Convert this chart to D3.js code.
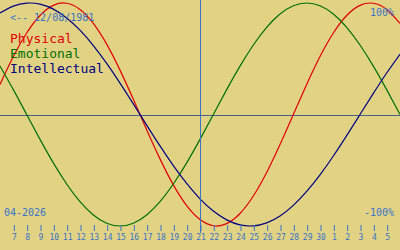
<!DOCTYPE html>
<html>
<head>
<meta charset="utf-8">
<script src="https://cdn.jsdelivr.net/npm/d3@7"></script>
<style>
  html, body { margin: 0; padding: 0; background: #e2d384; }
  svg { display: block; }
  text { font-family: "DejaVu Sans Mono", monospace; }
</style>
</head>
<body>
<div id="chartArea"></div>
<script>
// one value per day, 6 April .. 6 May (index 0..30), today = 21 April
const physical = [0.27, 0.52, 0.731, 0.888, 0.979, 0.998, 0.942, 0.817, 0.631, 0.398, 0.136,
  -0.136, -0.398, -0.631, -0.817, -0.942, -0.998, -0.979, -0.888, -0.731, -0.52,
  -0.27, 0, 0.27, 0.52, 0.731, 0.888, 0.979, 0.998, 0.942, 0.817];
const emotional = [0.434, 0.223, 0, -0.223, -0.434, -0.623, -0.782, -0.901, -0.975, -1, -0.975,
  -0.901, -0.782, -0.623, -0.434, -0.223, 0, 0.223, 0.434, 0.623, 0.782,
  0.901, 0.975, 1, 0.975, 0.901, 0.782, 0.623, 0.434, 0.223, 0];
const intellectual = [0.91, 0.972, 0.999, 0.99, 0.945, 0.866, 0.756, 0.618, 0.458, 0.282, 0.095,
  -0.095, -0.282, -0.458, -0.618, -0.756, -0.866, -0.945, -0.99, -0.999, -0.972,
  -0.91, -0.815, -0.69, -0.541, -0.372, -0.189, 0, 0.189, 0.372, 0.541];
const tickDays = [7, 8, 9, 10, 11, 12, 13, 14, 15, 16, 17, 18, 19, 20, 21, 22, 23, 24, 25,
  26, 27, 28, 29, 30, 1, 2, 3, 4, 5];
const todayIndex = 15;
const birthLabel = "<-- 12/08/1981";
const monthLabel = "04-2026";
const legend = ["Physical", "Emotional", "Intellectual"];

(function() {
  const w = 400;
  const h = 250;
  const textBlue = "#3a72c8";
  const colors = ["#e00000", "#007000", "#000080"];

  const svg = d3
    .select("#chartArea")
    .append("svg")
    .attr("width", w)
    .attr("height", h);

  svg.append("rect").attr("width", w).attr("height", h).attr("fill", "#e2d384");

  const xScale = d3.scaleLinear().domain([0, 30]).range([0, w]);
  const yScale = d3.scaleLinear().domain([-1, 1]).range([226, 3]);

  // zero line
  svg
    .append("line")
    .attr("x1", 0)
    .attr("x2", w)
    .attr("y1", 115.5)
    .attr("y2", 115.5)
    .attr("stroke", "#46608a")
    .attr("stroke-width", 1);

  const line = d3
    .line()
    .x((d, i) => xScale(i))
    .y(d => yScale(d))
    .curve(d3.curveNatural);

  svg
    .selectAll("path.bio")
    .data([physical, emotional, intellectual])
    .enter()
    .append("path")
    .attr("class", "bio")
    .attr("fill", "none")
    .attr("stroke", (d, i) => colors[i])
    .attr("stroke-width", 1.2)
    .attr("d", line);

  // today marker
  svg
    .append("line")
    .attr("x1", xScale(todayIndex) + 0.5)
    .attr("x2", xScale(todayIndex) + 0.5)
    .attr("y1", 0)
    .attr("y2", 233)
    .attr("stroke", textBlue)
    .attr("stroke-width", 1);

  // day axis
  const xAxis = d3
    .axisBottom()
    .scale(xScale)
    .tickValues(d3.range(1, 30))
    .tickFormat(d => tickDays[d - 1])
    .tickSizeInner(6)
    .tickSizeOuter(0)
    .tickPadding(3);

  const axis = svg
    .append("g")
    .attr("class", "x axis")
    .attr("transform", "translate(0.5,225)")
    .call(xAxis);
  axis.select(".domain").remove();
  axis.selectAll("line").attr("stroke", textBlue);
  axis
    .selectAll("text")
    .attr("fill", textBlue)
    .style("font-family", "DejaVu Sans Mono")
    .style("font-size", "8px");

  // labels
  svg
    .append("text")
    .attr("x", 10)
    .attr("y", 21)
    .attr("fill", textBlue)
    .style("font-size", "10px")
    .text(birthLabel);

  svg
    .append("text")
    .attr("x", 394)
    .attr("y", 16)
    .attr("text-anchor", "end")
    .attr("fill", textBlue)
    .style("font-size", "10px")
    .text("100%");

  svg
    .append("text")
    .attr("x", 394)
    .attr("y", 216)
    .attr("text-anchor", "end")
    .attr("fill", textBlue)
    .style("font-size", "10px")
    .text("-100%");

  svg
    .append("text")
    .attr("x", 4)
    .attr("y", 216)
    .attr("fill", textBlue)
    .style("font-size", "10px")
    .text(monthLabel);

  svg
    .selectAll("text.legend")
    .data(legend)
    .enter()
    .append("text")
    .attr("class", "legend")
    .attr("x", 10)
    .attr("y", (d, i) => 43 + i * 15)
    .attr("fill", (d, i) => colors[i])
    .style("font-size", "13px")
    .text(d => d);
})();
</script>
</body>
</html>
